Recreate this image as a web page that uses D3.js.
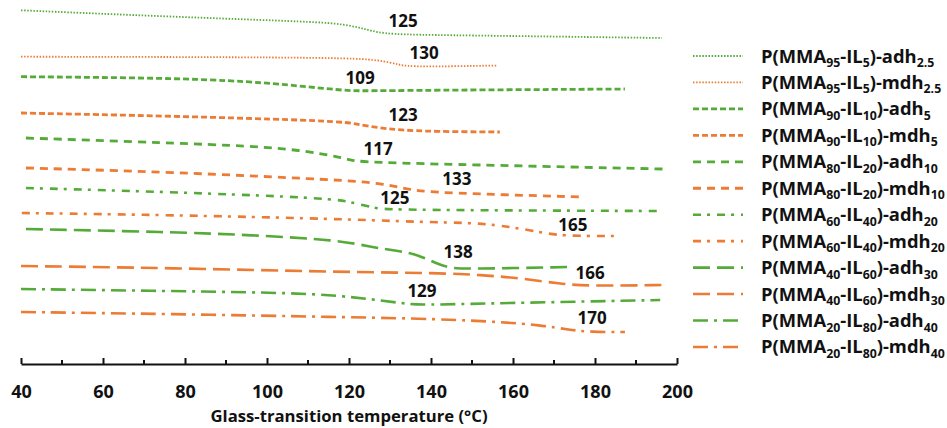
<!DOCTYPE html>
<html>
<head>
<meta charset="utf-8">
<script src="https://cdn.jsdelivr.net/npm/d3@7/dist/d3.min.js"></script>
<style>
  html, body { margin: 0; padding: 0; background: #fff; }
  svg { display: block; }
  text { font-family: "Open Sans", "Liberation Sans", sans-serif; font-weight: 700; fill: #111; }
</style>
</head>
<body>
<svg id="chart" width="947" height="428"></svg>
<script>
// ---------- DATA ----------
// Series names (legend), split into parts: [mma, il, kind, dh]
const seriesMMA  = ["95","95","90","90","80","80","60","60","40","40","20","20"];
const seriesIL   = ["5","5","10","10","20","20","40","40","60","60","80","80"];
const seriesKind = ["adh","mdh","adh","mdh","adh","mdh","adh","mdh","adh","mdh","adh","mdh"];
const seriesDH   = ["2.5","2.5","5","5","10","10","20","20","30","30","40","40"];

// Thermogram curves: temperature (°C) and stacked heat flow (a.u.)
const tA25 = [40, 76.3, 112.9, 117.8, 123.4, 127.6, 140, 160, 196.3];
const hA25 = [35.37, 34.73, 34.2, 34.0, 33.6, 33.0, 32.9, 32.8, 32.6];
const tM25 = [40, 117.8, 127.6, 132.4, 135.6, 156.3];
const hM25 = [30.73, 30.67, 30.4, 29.9, 29.7, 29.85];
const tA5  = [40, 76.3, 95.9, 108, 117.8, 121.5, 130, 187.3];
const hA5  = [28.73, 28.6, 28.25, 27.8, 27.4, 27.3, 27.35, 27.5];
const tM5  = [40, 76.3, 117.8, 121.5, 127.6, 132.4, 140, 156.8];
const hM5  = [25.1, 24.8, 24.3, 24.0, 23.6, 23.4, 23.25, 23.2];
const tA10 = [41.2, 76.3, 95.9, 108, 117.8, 120.2, 123.4, 140, 196.6];
const hA10 = [22.6, 22.1, 21.8, 21.4, 20.7, 20.4, 20.2, 20.0, 19.5];
const tM10 = [41.2, 76.3, 117.8, 127.6, 134.9, 142.2, 177.1];
const hM10 = [19.6, 19.2, 18.4, 18.1, 17.4, 17.1, 16.7];
const tA20 = [41.2, 76.3, 108, 117.8, 120.2, 126.3, 128.8, 196.1];
const hA20 = [17.6, 17.2, 16.7, 16.4, 16.2, 15.6, 15.4, 15.3];
const tM20 = [40.2, 76.3, 117.8, 137.3, 152, 159.3, 166.6, 171.5, 185.4];
const hM20 = [15.1, 14.9, 14.5, 14.2, 14.1, 13.7, 13.2, 12.8, 12.8];
const tA30 = [41.2, 76.3, 95.9, 117.8, 125.1, 132.4, 137, 141, 144.5, 148.5, 173.9];
const hA30 = [13.5, 13.2, 12.9, 12.4, 11.7, 11.3, 10.9, 10.1, 9.6, 9.5, 9.7];
const tM30 = [40, 76.3, 117.8, 142.2, 152, 161.7, 171.5, 178.8, 197.1];
const hM30 = [9.8, 9.6, 9.2, 9.1, 8.9, 8.6, 8.0, 7.8, 7.9];
const tA40 = [40, 76.3, 108, 117.8, 125.1, 132.4, 137.3, 147.1, 171.5, 195.9];
const hA40 = [7.5, 7.3, 7.1, 6.8, 6.5, 6.1, 5.9, 6.0, 6.2, 6.4];
const tM40 = [40, 76.3, 117.8, 142.2, 156.8, 166.6, 173.9, 178.8, 187.3];
const hM40 = [5.2, 5.0, 4.7, 4.5, 4.2, 3.9, 3.4, 3.2, 3.2];

const curveT = [tA25, tM25, tA5, tM5, tA10, tM10, tA20, tM20, tA30, tM30, tA40, tM40];
const curveH = [hA25, hM25, hA5, hM5, hA10, hM10, hA20, hM20, hA30, hM30, hA40, hM40];

// Tg annotations (value, temperature position, heat-flow position)
const tgValue = [125, 130, 109, 123, 117, 133, 125, 165, 138, 166, 129, 170];
const tgPosT  = [133.2, 138.3, 122.7, 133.2, 127.1, 146.3, 131.2, 174.6, 146.6, 178.8, 137.8, 179.3];
const tgPosH  = [34.3, 31.1, 28.6, 24.9, 21.5, 18.5, 16.6, 13.9, 11.2, 9.1, 7.3, 4.6];

// X axis ticks
const xMajorTicks = [40, 60, 80, 100, 120, 140, 160, 180, 200];
const xMinorTicks = [50, 70, 90, 110, 130, 150, 170, 190];

// ---------- STYLE ----------
const GREEN = "#55ab38", ORANGE = "#ec7b34";
const colorOf = k => k === "adh" ? GREEN : ORANGE;
const dashes = ["1.5,1.6", "1.5,1.6", "6,3", "6,3", "8,6", "8,6",
                "8,6,3,7", "8,6,3,7", "17,7", "17,7", "15,6,3,6", "15,6,3,6"];
const widths = [1.8, 1.8, 2.8, 2.8, 2.8, 2.8, 2.6, 2.6, 2.6, 2.6, 2.6, 2.6];

// ---------- CHART ----------
const svg = d3.select("#chart");
const x = d3.scaleLinear().domain([40, 200]).range([21, 677]);
const y = d3.scaleLinear().domain([0, 36.4]).range([364, 0]);

const line = d3.line().x(d => x(d[0])).y(d => y(d[1])).curve(d3.curveBasis);

const series = curveT.map((ts, i) => ({
  i, pts: ts.map((t, j) => [t, curveH[i][j]])
}));

svg.append("g").selectAll("path").data(series).join("path")
  .attr("d", d => line(d.pts))
  .attr("fill", "none")
  .attr("stroke", d => colorOf(seriesKind[d.i]))
  .attr("stroke-width", d => widths[d.i])
  .attr("stroke-dasharray", d => dashes[d.i]);

// Tg labels
svg.append("g").selectAll("text").data(tgValue).join("text")
  .attr("x", (d, i) => x(tgPosT[i]))
  .attr("y", (d, i) => y(tgPosH[i]))
  .attr("dy", "0.36em")
  .attr("text-anchor", "middle")
  .style("font-size", "17px")
  .text(d => d);

// X axis
const axisY = 364;
const gx = svg.append("g").attr("transform", `translate(0,${axisY})`)
  .call(d3.axisBottom(x).tickValues(xMajorTicks).tickSize(-6).tickSizeOuter(0).tickPadding(21).tickFormat(d3.format("d")));
gx.select(".domain").attr("stroke", "#111").attr("stroke-width", 2);
gx.selectAll(".tick line").attr("stroke", "#111").attr("stroke-width", 2);
gx.selectAll(".tick text").style("font-size", "18px").style("font-family", null).attr("fill", "#111");
gx.append("g").selectAll("line").data(xMinorTicks).join("line")
  .attr("x1", d => x(d)).attr("x2", d => x(d))
  .attr("y1", 0).attr("y2", -4)
  .attr("stroke", "#111").attr("stroke-width", 2);

svg.append("text")
  .attr("x", 349).attr("y", 422)
  .attr("text-anchor", "middle")
  .style("font-size", "16.7px")
  .text("Glass-transition temperature (°C)");

// Legend
const lg = svg.append("g");
const rowY = i => 56 + i * 26.45;
seriesKind.forEach((k, i) => {
  lg.append("line")
    .attr("x1", 693).attr("x2", 743)
    .attr("y1", rowY(i)).attr("y2", rowY(i))
    .attr("stroke", colorOf(k))
    .attr("stroke-width", widths[i])
    .attr("stroke-dasharray", dashes[i]);
  const t = lg.append("text").attr("x", 761).attr("y", rowY(i) + 6.5).style("font-size", "18.4px");
  t.append("tspan").text("P(MMA");
  t.append("tspan").attr("dy", 4.5).style("font-size", "12.3px").text(seriesMMA[i]);
  t.append("tspan").attr("dy", -4.5).text("-IL");
  t.append("tspan").attr("dy", 4.5).style("font-size", "12.3px").text(seriesIL[i]);
  t.append("tspan").attr("dy", -4.5).text(")-" + k);
  t.append("tspan").attr("dy", 4.5).style("font-size", "12.3px").text(seriesDH[i]);
});
</script>
</body>
</html>
